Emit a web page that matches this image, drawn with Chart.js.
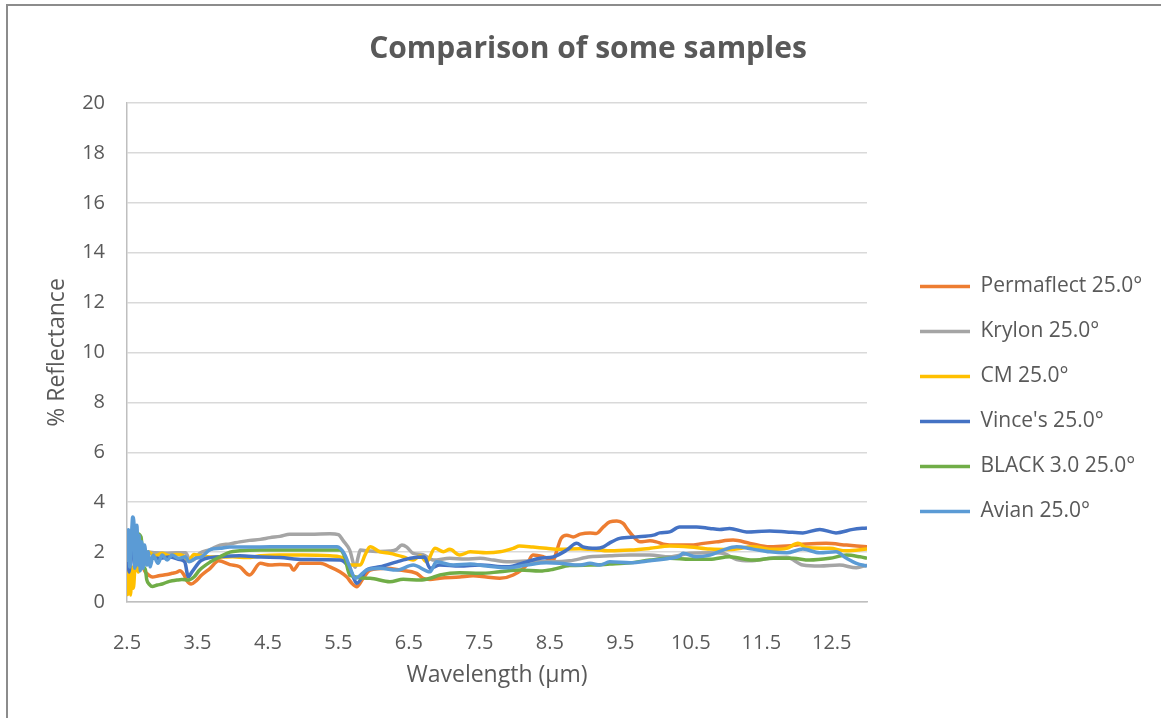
<!DOCTYPE html>
<html>
<head>
<meta charset="utf-8">
<title>Comparison of some samples</title>
<script src="https://cdn.jsdelivr.net/npm/chart.js@4.4.1/dist/chart.umd.min.js"></script>
<style>
  html, body { margin: 0; padding: 0; background: #fff; overflow: hidden; }
  #wrap { position: relative; width: 1161px; height: 718px; }
  #frame {
    position: absolute; left: 6px; top: 4px; width: 1300px; height: 900px;
    border-left: 2px solid #8c8c8c; border-top: 2px solid #8c8c8c;
    pointer-events: none;
  }
  canvas { position: absolute; left: 0; top: 0; }
</style>
</head>
<body>
<div id="wrap">
  <canvas id="chart" width="1161" height="718"></canvas>
  <div id="frame"></div>
</div>
<script>
// spectra as [wavelength µm, % reflectance]
const permaflect = [[2.52,1.6],[2.58,1.9],[2.64,1.4],[2.70,1.5],[2.76,1.2],[2.80,1.1],[2.86,1.0],[2.95,1.05],[3.07,1.1],[3.14,1.15],[3.21,1.2],[3.25,1.25],[3.31,1.08],[3.35,0.85],[3.41,0.72],[3.48,0.85],[3.56,1.08],[3.68,1.35],[3.80,1.65],[3.96,1.5],[4.10,1.41],[4.24,1.08],[4.39,1.55],[4.53,1.48],[4.67,1.5],[4.81,1.48],[4.86,1.28],[4.95,1.55],[5.10,1.55],[5.24,1.55],[5.38,1.41],[5.52,1.21],[5.62,1.0],[5.69,0.75],[5.76,0.61],[5.85,0.95],[5.95,1.28],[6.18,1.35],[6.37,1.28],[6.61,1.15],[6.70,0.95],[6.80,0.9],[6.94,0.95],[7.22,1.0],[7.41,1.05],[7.60,1.0],[7.79,0.95],[7.98,1.08],[8.17,1.48],[8.26,1.88],[8.41,1.81],[8.55,1.68],[8.60,2.08],[8.66,2.55],[8.74,2.68],[8.83,2.61],[8.93,2.72],[9.07,2.77],[9.16,2.75],[9.26,3.01],[9.35,3.21],[9.45,3.25],[9.54,3.15],[9.61,2.88],[9.71,2.55],[9.78,2.41],[9.92,2.45],[10.01,2.41],[10.11,2.32],[10.30,2.28],[10.49,2.28],[10.68,2.35],[10.86,2.41],[11.10,2.48],[11.34,2.35],[11.62,2.21],[11.86,2.24],[12.14,2.32],[12.42,2.35],[12.71,2.28],[13.0,2.21]];
const krylon = [[2.50,1.9],[2.60,2.0],[2.70,1.95],[2.80,2.0],[2.90,1.97],[3.05,1.95],[3.20,1.97],[3.33,1.97],[3.40,1.65],[3.45,1.7],[3.53,1.95],[3.68,2.1],[3.82,2.28],[3.96,2.33],[4.10,2.41],[4.24,2.47],[4.39,2.51],[4.53,2.58],[4.67,2.63],[4.81,2.72],[5.10,2.72],[5.38,2.74],[5.50,2.7],[5.57,2.45],[5.66,2.08],[5.74,1.39],[5.78,1.8],[5.81,2.08],[5.95,2.04],[6.09,2.02],[6.23,2.04],[6.32,2.1],[6.40,2.28],[6.47,2.2],[6.56,1.95],[6.70,1.9],[6.85,1.68],[7.08,1.75],[7.30,1.72],[7.51,1.75],[7.70,1.68],[7.89,1.61],[8.17,1.64],[8.36,1.62],[8.55,1.61],[8.78,1.65],[9.07,1.81],[9.35,1.85],[9.64,1.88],[9.92,1.88],[10.20,1.81],[10.49,1.95],[10.77,1.97],[10.95,1.95],[11.15,1.7],[11.34,1.65],[11.62,1.75],[11.86,1.79],[12.09,1.48],[12.33,1.44],[12.61,1.48],[12.85,1.37],[13.0,1.48]];
const cm = [[2.50,1.2],[2.51,0.3],[2.53,1.5],[2.55,0.28],[2.57,1.4],[2.59,0.55],[2.62,1.6],[2.66,1.2],[2.70,1.9],[2.75,1.6],[2.80,2.0],[2.90,1.85],[3.00,1.95],[3.10,1.85],[3.20,1.9],[3.30,1.85],[3.37,1.65],[3.45,1.9],[3.55,1.85],[3.68,1.8],[3.82,1.8],[4.00,1.81],[4.20,1.78],[4.40,1.85],[4.67,1.88],[5.00,1.88],[5.38,1.85],[5.52,1.81],[5.60,1.7],[5.66,1.48],[5.81,1.48],[5.88,1.9],[5.95,2.21],[6.09,2.01],[6.23,1.95],[6.42,1.81],[6.56,1.68],[6.66,1.85],[6.75,1.61],[6.87,2.15],[6.99,2.01],[7.08,2.11],[7.22,1.88],[7.37,2.01],[7.60,1.97],[7.79,2.01],[7.98,2.15],[8.07,2.24],[8.26,2.2],[8.45,2.15],[8.64,2.11],[8.93,2.13],[9.07,2.11],[9.35,2.05],[9.64,2.08],[9.92,2.15],[10.20,2.24],[10.49,2.2],[10.77,2.12],[11.05,2.1],[11.38,2.21],[11.67,2.11],[11.86,2.15],[12.02,2.35],[12.14,2.18],[12.47,2.15],[12.71,2.05],[13.0,2.12]];
const vinces = [[2.50,2.4],[2.53,1.2],[2.57,2.6],[2.61,1.4],[2.65,2.3],[2.70,1.5],[2.75,2.0],[2.80,1.6],[2.87,1.75],[2.95,1.75],[3.10,1.8],[3.25,1.7],[3.32,1.6],[3.37,1.01],[3.42,1.2],[3.56,1.68],[3.82,1.81],[4.10,1.85],[4.40,1.8],[4.67,1.78],[5.00,1.7],[5.52,1.68],[5.62,1.5],[5.69,1.15],[5.76,0.75],[5.90,1.28],[6.09,1.41],[6.33,1.61],[6.52,1.75],[6.72,1.8],[6.80,1.35],[6.94,1.48],[7.22,1.44],[7.51,1.48],[7.89,1.41],[8.17,1.61],[8.36,1.75],[8.55,1.81],[8.74,2.08],[8.88,2.35],[8.97,2.21],[9.16,2.15],[9.26,2.21],[9.35,2.37],[9.49,2.55],[9.73,2.61],[9.97,2.68],[10.06,2.77],[10.20,2.81],[10.34,3.01],[10.58,3.01],[10.77,2.95],[10.91,2.91],[11.05,2.95],[11.29,2.81],[11.62,2.85],[11.86,2.81],[12.09,2.77],[12.33,2.91],[12.56,2.77],[12.80,2.91],[13.0,2.97]];
const black30 = [[2.50,1.8],[2.56,2.2],[2.60,2.5],[2.64,2.75],[2.70,2.6],[2.73,1.5],[2.76,1.3],[2.78,0.9],[2.82,0.7],[2.86,0.62],[2.93,0.68],[3.00,0.72],[3.07,0.8],[3.14,0.85],[3.21,0.88],[3.28,0.9],[3.37,0.88],[3.45,1.0],[3.53,1.28],[3.68,1.6],[3.82,1.81],[3.96,2.0],[4.10,2.05],[4.39,2.08],[4.67,2.08],[5.00,2.08],[5.52,2.08],[5.59,1.8],[5.66,1.08],[5.95,0.95],[6.23,0.81],[6.42,0.91],[6.66,0.88],[6.80,0.95],[6.94,1.08],[7.22,1.17],[7.51,1.15],[7.79,1.21],[8.07,1.28],[8.36,1.24],[8.55,1.31],[8.78,1.46],[9.07,1.48],[9.35,1.52],[9.64,1.57],[9.92,1.68],[10.20,1.75],[10.49,1.71],[10.77,1.71],[11.05,1.81],[11.38,1.68],[11.67,1.75],[11.95,1.75],[12.18,1.68],[12.47,1.75],[12.71,1.88],[12.90,1.81],[13.0,1.75]];
const avian = [[2.50,1.6],[2.52,2.9],[2.54,1.4],[2.57,3.0],[2.58,3.41],[2.60,3.1],[2.61,1.35],[2.64,3.08],[2.66,1.48],[2.67,2.68],[2.69,1.25],[2.71,2.41],[2.73,1.35],[2.75,2.28],[2.78,1.48],[2.80,2.01],[2.83,1.41],[2.87,1.88],[2.94,1.55],[3.00,1.88],[3.07,1.68],[3.14,1.88],[3.23,1.75],[3.33,1.81],[3.38,1.61],[3.47,1.75],[3.56,1.81],[3.68,2.1],[3.82,2.15],[3.96,2.2],[4.24,2.2],[4.53,2.21],[5.00,2.21],[5.48,2.21],[5.59,1.9],[5.66,1.41],[5.74,0.95],[5.90,1.28],[6.09,1.35],[6.33,1.28],[6.56,1.48],[6.80,1.21],[6.89,1.61],[7.13,1.48],[7.37,1.52],[7.60,1.44],[7.89,1.37],[8.17,1.48],[8.45,1.57],[8.64,1.55],[8.93,1.48],[9.07,1.55],[9.21,1.48],[9.35,1.61],[9.64,1.57],[9.92,1.65],[10.20,1.75],[10.34,1.84],[10.39,1.95],[10.58,1.81],[10.77,1.88],[10.96,2.08],[11.15,2.21],[11.38,2.12],[11.62,2.01],[11.86,1.97],[12.09,2.12],[12.33,1.97],[12.56,2.01],[12.71,1.75],[12.85,1.55],[13.0,1.44]];

const seriesNames = ["Permaflect 25.0°", "Krylon 25.0°", "CM 25.0°", "Vince's 25.0°", "BLACK 3.0 25.0°", "Avian 25.0°"];
const seriesData = [permaflect, krylon, cm, vinces, black30, avian];
const seriesColors = ["#ED7D31", "#A5A5A5", "#FFC000", "#4472C4", "#70AD47", "#5B9BD5"];
const xTicks = [2.5, 3.5, 4.5, 5.5, 6.5, 7.5, 8.5, 9.5, 10.5, 11.5, 12.5];

const FONT = "'Open Sans', sans-serif";
const TEXT = "#595959";
const LEGEND_SIZE = 21;
const LEGEND_PAD = 24;
const LINE_W = 50;

Chart.defaults.font.family = FONT;
Chart.defaults.color = TEXT;

// plot area spans x 127..867, legend lines start at x 920
const meas = document.createElement("canvas").getContext("2d");
meas.font = `${LEGEND_SIZE}px ${FONT}`;
const widest = Math.max(...seriesNames.map(n => meas.measureText(n).width));
const legendWidth = LEGEND_PAD + LINE_W + LEGEND_SIZE / 2 + widest + 10;
const padRight = Math.max(0, 1161 - 920 + LEGEND_PAD - legendWidth);
const padLeft = Math.min(40, 15 + padRight);   // nudges the title centre right

const datasets = seriesNames.map((name, i) => ({
  label: name,
  data: seriesData[i].map(([x, y]) => ({ x, y })),
  borderColor: seriesColors[i],
  backgroundColor: seriesColors[i],
  borderWidth: 3.5,
  pointRadius: 0,
  cubicInterpolationMode: "monotone",
  order: seriesNames.length - i   // later series drawn on top
}));

new Chart(document.getElementById("chart"), {
  type: "line",
  data: { datasets },
  options: {
    responsive: false,
    animation: false,
    events: [],
    layout: { padding: { left: padLeft, right: padRight, top: 0, bottom: 0 } },
    plugins: {
      title: {
        display: true,
        text: "Comparison of some samples",
        color: TEXT,
        font: { size: 30, weight: "bold" },
        padding: { top: 31, bottom: 36 }
      },
      legend: {
        position: "right",
        align: "start",
        maxWidth: 400,
        // blank title pushes the entries down to the middle of the plot
        title: { display: true, text: " ", font: { size: 10 }, padding: { top: 240, bottom: 0 } },
        labels: {
          color: TEXT,
          font: { size: LEGEND_SIZE },
          usePointStyle: true,
          pointStyle: "line",
          pointStyleWidth: LINE_W,
          padding: LEGEND_PAD,
          sort: (a, b) => a.datasetIndex - b.datasetIndex
        }
      },
      tooltip: { enabled: false }
    },
    scales: {
      x: {
        type: "linear",
        min: 2.5,
        max: 13,
        afterBuildTicks: s => { s.ticks = xTicks.map(v => ({ value: v })); },
        afterFit: s => { s.height = 116; },
        grid: { display: false },
        border: { display: true, color: "#bfbfbf", width: 1.5 },
        ticks: {
          color: TEXT, font: { size: 20 }, padding: 21,
          maxRotation: 0, autoSkip: false,
          callback: v => v.toFixed(1)
        },
        title: {
          display: true, text: "Wavelength (µm)", color: TEXT,
          font: { size: 23 }, padding: { top: 0, bottom: 29 }
        }
      },
      y: {
        min: 0,
        max: 20,
        afterFit: s => { s.width = 127 - padLeft; },
        grid: { color: "#d9d9d9", lineWidth: 1.5, drawTicks: false },
        border: { display: true, color: "#bfbfbf", width: 1.5 },
        ticks: { stepSize: 2, color: TEXT, font: { size: 20 }, padding: 22 },
        title: {
          display: true, text: "% Reflectance", color: TEXT,
          font: { size: 23 }, padding: { top: 44 - padLeft, bottom: 0 }
        }
      },
      // empty right axis, only keeps a gap between plot and legend
      gap: {
        position: "right",
        display: true,
        grid: { display: false },
        border: { display: false },
        ticks: { display: false },
        afterFit: s => { s.width = 920 - LEGEND_PAD - 867; }
      }
    }
  }
});
</script>
</body>
</html>
